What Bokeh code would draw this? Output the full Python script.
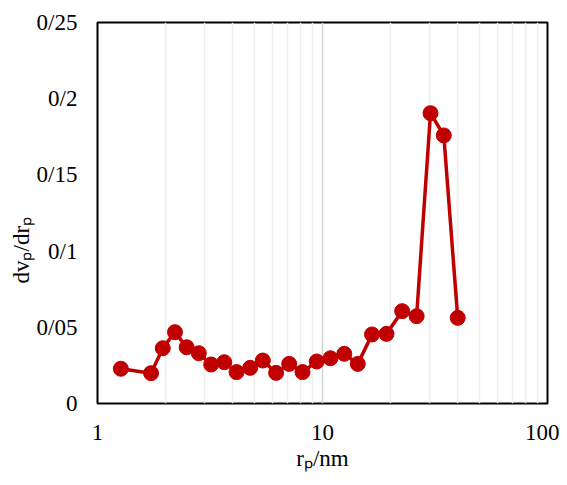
from bokeh.plotting import figure
from bokeh.models import FixedTicker, Title
from bokeh.embed import file_html
from bokeh.resources import INLINE

# ---- data ----
r_p = [1.27, 1.73, 1.95, 2.21, 2.49, 2.82, 3.20, 3.66, 4.15, 4.77, 5.43, 6.22, 7.11,
       8.15, 9.43, 10.85, 12.5, 14.35, 16.6, 19.25, 22.6, 26.2, 30.2, 34.6, 39.9]
dv_drp = [0.0228, 0.0199, 0.0363, 0.0468, 0.0369, 0.0330, 0.0256, 0.0271, 0.0206, 0.0234,
          0.0282, 0.0201, 0.0260, 0.0206, 0.0276, 0.0297, 0.0326, 0.0260, 0.0453, 0.0457,
          0.0606, 0.0573, 0.1905, 0.1759, 0.0562]

x_major_ticks = [1, 10, 100]
x_minor_ticks = [2, 3, 4, 5, 6, 7, 8, 9, 20, 30, 40, 50, 60, 70, 80, 90]
x_tick_labels = ["1", "10", "100"]
y_ticks = [0, 0.05, 0.1, 0.15, 0.2, 0.25]
y_tick_labels = ["0", "0/05", "0/1", "0/15", "0/2", "0/25"]
x_title = "rₚ/nm"
y_title = "dvₚ/drₚ"

FONT = "Liberation Serif"
FS = "23px"

p = figure(frame_width=450, frame_height=381, x_axis_type="log",
           x_range=(1, 100), y_range=(0, 0.25),
           output_backend="svg", toolbar_location=None,
           min_border_left=97, min_border_right=12, min_border_top=22, min_border_bottom=74,
           background_fill_color="white", border_fill_color="white")

p.outline_line_color = "black"
p.outline_line_width = 2

p.xaxis.ticker = FixedTicker(ticks=x_major_ticks, minor_ticks=x_minor_ticks)
p.xaxis.major_label_overrides = {t: l for t, l in zip(x_major_ticks, x_tick_labels)}
p.yaxis.ticker = FixedTicker(ticks=y_ticks)
p.yaxis.major_label_overrides = {t: l for t, l in zip(y_ticks, y_tick_labels)}

for ax in (p.xaxis, p.yaxis):
    ax.axis_line_color = None
    ax.major_tick_out = 0
    ax.major_tick_in = 0
    ax.minor_tick_out = 0
    ax.minor_tick_in = 0
    ax.major_label_text_font = FONT
    ax.major_label_text_font_size = FS
    ax.major_label_text_color = "black"
p.xaxis.major_label_standoff = 21
p.yaxis.major_label_standoff = 20

p.xgrid.grid_line_color = "#d4d4d4"
p.xgrid.grid_line_width = 1.5
p.xgrid.minor_grid_line_color = "#eeeeee"
p.xgrid.minor_grid_line_width = 1.5
p.ygrid.visible = False

RED = "#C00000"
p.line(r_p, dv_drp, line_color=RED, line_width=3.5)
p.scatter(r_p, dv_drp, size=15, fill_color=RED, line_color=RED)

p.add_layout(Title(text=x_title, align="center", text_font=FONT, text_font_size=FS,
                   text_font_style="normal", text_color="black", standoff=3), "below")
p.add_layout(Title(text=y_title, align="left", offset=120, text_font=FONT, text_font_size=FS,
                   text_font_style="normal", text_color="black", standoff=0), "left")

open("out.html", "w").write(file_html(p, INLINE))
